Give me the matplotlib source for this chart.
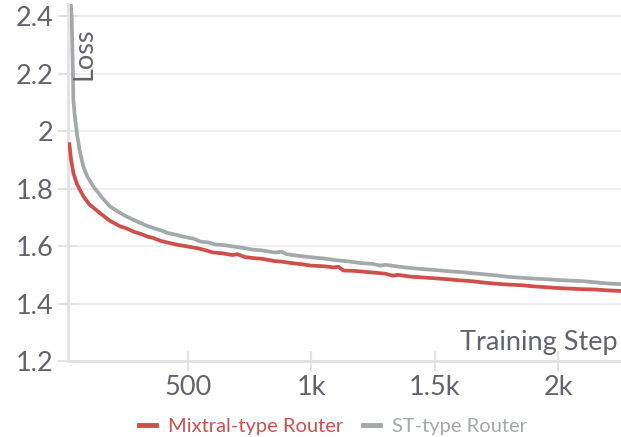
import matplotlib
matplotlib.use("Agg")
import matplotlib.pyplot as plt

plt.rcParams['font.family'] = ['Lato', 'DejaVu Sans']

# values
mixtral_steps = [19, 25, 35, 50, 76, 100, 125, 143, 180, 224, 250, 280, 310, 333, 360,
                 390, 420, 455, 490, 536, 570, 600, 640, 680, 700, 730, 770, 800, 850,
                 880, 920, 960, 1000, 1050, 1090, 1110, 1130, 1170, 1200, 1250, 1300,
                 1330, 1350, 1400, 1450, 1500, 1550, 1600, 1650, 1700, 1750, 1800, 1850,
                 1900, 1950, 2000, 2050, 2100, 2150, 2200, 2250]
mixtral_loss = [1.955, 1.905, 1.855, 1.815, 1.773, 1.745, 1.728, 1.715, 1.690, 1.669,
                1.662, 1.650, 1.642, 1.634, 1.628, 1.618, 1.612, 1.605, 1.600, 1.593,
                1.586, 1.578, 1.575, 1.569, 1.572, 1.562, 1.558, 1.556, 1.548, 1.546,
                1.541, 1.537, 1.532, 1.530, 1.526, 1.528, 1.515, 1.514, 1.512, 1.508,
                1.504, 1.497, 1.500, 1.494, 1.491, 1.488, 1.485, 1.481, 1.478, 1.473,
                1.469, 1.466, 1.464, 1.460, 1.457, 1.454, 1.452, 1.450, 1.449, 1.446,
                1.444]

st_steps = [20, 28, 32, 35, 40, 49, 60, 75, 90, 116, 150, 184, 220, 251, 300, 330, 359,
            390, 420, 450, 480, 522, 549, 580, 610, 650, 690, 720, 760, 800, 850, 880,
            900, 950, 1000, 1050, 1100, 1150, 1200, 1250, 1280, 1300, 1350, 1400, 1450,
            1500, 1550, 1600, 1650, 1700, 1750, 1800, 1850, 1900, 1950, 2000, 2050,
            2100, 2150, 2200, 2250]
st_loss = [2.50, 2.40, 2.25, 2.11, 2.06, 1.995, 1.935, 1.878, 1.845, 1.808, 1.770, 1.738,
           1.718, 1.703, 1.683, 1.672, 1.663, 1.655, 1.645, 1.640, 1.633, 1.626, 1.616,
           1.613, 1.606, 1.603, 1.598, 1.594, 1.588, 1.585, 1.578, 1.580, 1.572, 1.566,
           1.561, 1.557, 1.551, 1.547, 1.541, 1.538, 1.532, 1.535, 1.529, 1.524, 1.520,
           1.517, 1.513, 1.510, 1.506, 1.502, 1.498, 1.493, 1.490, 1.487, 1.485, 1.482,
           1.480, 1.478, 1.474, 1.470, 1.468]

x_ticks = [500, 1000, 1500, 2000]
x_labels = ['500', '1k', '1.5k', '2k']
y_ticks = [1.2, 1.4, 1.6, 1.8, 2.0, 2.2, 2.4]
y_labels = ['1.2', '1.4', '1.6', '1.8', '2', '2.2', '2.4']

red = '#cf4f4b'
grey = '#a3a8ab'
text_col = '#63636f'
axis_col = '#e2e2e4'

fig = plt.figure(figsize=(6.21, 4.37), dpi=100)
ax = fig.add_axes([67.7 / 621, 76 / 437, 553.3 / 621, 357.5 / 437])

ax.plot(mixtral_steps, mixtral_loss, color=red, lw=2.7, label='Mixtral-type Router',
        zorder=3)
ax.plot(st_steps, st_loss, color=grey, lw=2.7, label='ST-type Router', zorder=2)

ax.set_xlim(12, 2255)
ax.set_ylim(1.2, 2.445)
ax.set_xticks(x_ticks)
ax.set_xticklabels(x_labels)
ax.set_yticks(y_ticks)
ax.set_yticklabels(y_labels)

for s in ['top', 'right']:
    ax.spines[s].set_visible(False)
for s in ['left', 'bottom']:
    ax.spines[s].set_color(axis_col)
    ax.spines[s].set_linewidth(2)

ax.tick_params(axis='both', direction='inout', length=14, width=1.5,
               color=axis_col, labelcolor=text_col, labelsize=19.5, pad=3)
ax.grid(axis='y', color='#ececee', lw=1.2)
ax.set_axisbelow(True)

ax.text(0.0295, 0.9315, 'Loss', transform=ax.transAxes, rotation=90,
        ha='center', va='top', fontsize=19.5, color=text_col)
ax.text(0.9946, 0.0308, 'Training Step', transform=ax.transAxes,
        ha='right', va='baseline', fontsize=19.5, color=text_col)

leg = fig.legend(loc='center', bbox_to_anchor=(0.536, 0.0236), ncol=2,
                 frameon=False, fontsize=14.5, handlelength=0.85,
                 handletextpad=0.6, columnspacing=0.95)
for t, c in zip(leg.get_texts(), [red, grey]):
    t.set_color(c)
for h in leg.legend_handles:
    h.set_linewidth(3.5)

fig.savefig('out.png', dpi=100)
